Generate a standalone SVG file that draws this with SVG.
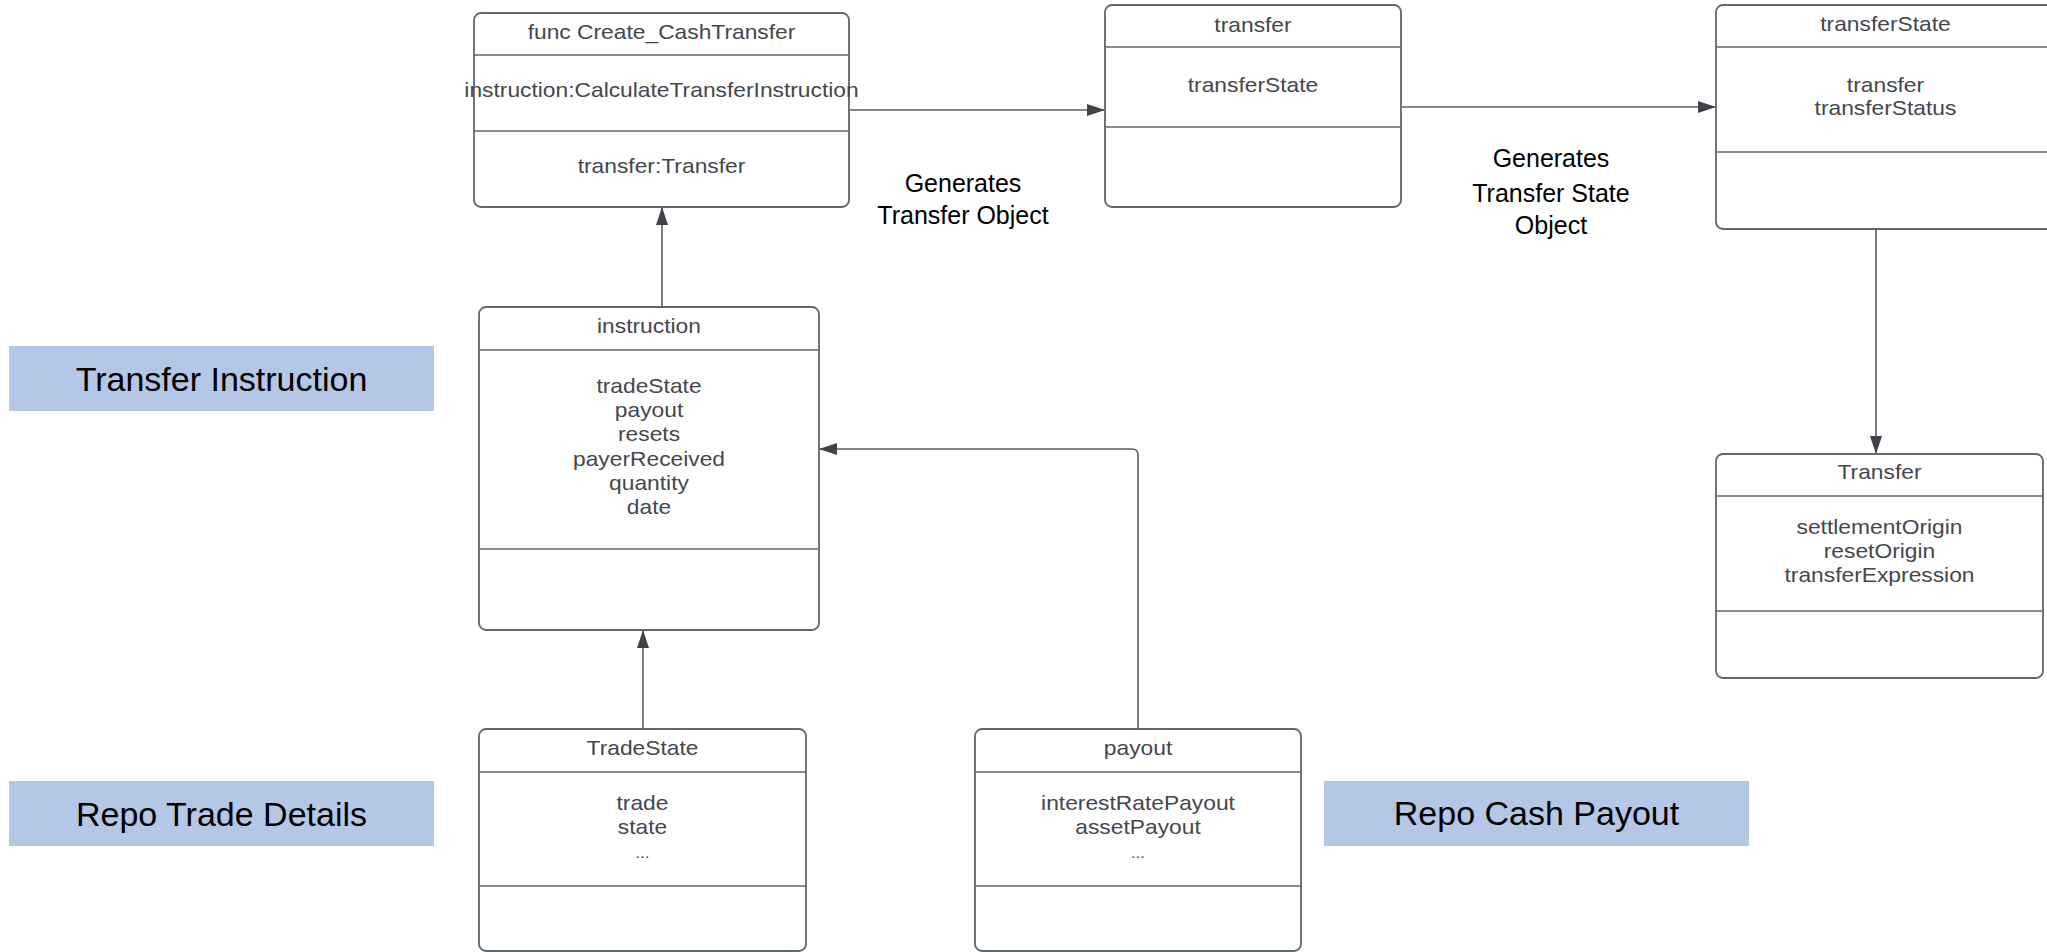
<svg xmlns="http://www.w3.org/2000/svg" width="2047" height="952" viewBox="0 0 2047 952">
<style>
  .box { fill: #ffffff; stroke: #62666d; stroke-width: 1.8; }
  .div { stroke: #62666d; stroke-width: 1.6; }
  .nt { font-family: "Liberation Sans", Arial, sans-serif; font-size: 20px; fill: #44474d; text-anchor: middle; }
  .conn { fill: none; stroke: #5a5e65; stroke-width: 1.6; }
  .lbl { font-family: "Liberation Sans", Arial, sans-serif; font-size: 25px; fill: #000000; text-anchor: middle; }
  .band { fill: #b4c7e7; }
  .bt { font-family: "Liberation Sans", Arial, sans-serif; font-size: 34px; fill: #000000; text-anchor: middle; }
</style>
<defs>
  <marker id="arr" viewBox="0 0 18 12" refX="18" refY="6" markerWidth="18" markerHeight="12" orient="auto" markerUnits="userSpaceOnUse">
    <path d="M0,0 L18,6 L0,12 z" fill="#3e4148"/>
  </marker>
</defs>
<rect x="0" y="0" width="2047" height="952" fill="#ffffff"/>

<g id="connectors">
  <line class="conn" x1="849" y1="110" x2="1105" y2="110" marker-end="url(#arr)"/>
  <line class="conn" x1="1401" y1="107" x2="1716" y2="107" marker-end="url(#arr)"/>
  <line class="conn" x1="1876" y1="229" x2="1876" y2="454" marker-end="url(#arr)"/>
  <line class="conn" x1="662" y1="307" x2="662" y2="207" marker-end="url(#arr)"/>
  <line class="conn" x1="643" y1="729" x2="643" y2="630" marker-end="url(#arr)"/>
  <path class="conn" d="M1138,729 V455 Q1138,449 1132,449 H819" marker-end="url(#arr)"/>
</g>

<g id="node-func">
  <rect class="box" x="474" y="13" width="375" height="194" rx="7"/>
  <line class="div" x1="474" y1="55" x2="849" y2="55"/>
  <line class="div" x1="474" y1="131" x2="849" y2="131"/>
  <g transform="translate(661.5 0) scale(1.14 1)">
    <text class="nt" x="0" y="39">func Create_CashTransfer</text>
    <text class="nt" x="0" y="97">instruction:CalculateTransferInstruction</text>
    <text class="nt" x="0" y="173">transfer:Transfer</text>
  </g>
</g>

<g id="node-transfer">
  <rect class="box" x="1105" y="5" width="296" height="202" rx="7"/>
  <line class="div" x1="1105" y1="47" x2="1401" y2="47"/>
  <line class="div" x1="1105" y1="127" x2="1401" y2="127"/>
  <g transform="translate(1253 0) scale(1.14 1)">
    <text class="nt" x="0" y="32">transfer</text>
    <text class="nt" x="0" y="92">transferState</text>
  </g>
</g>

<g id="node-transferState">
  <rect class="box" x="1716" y="5" width="360" height="224" rx="7"/>
  <line class="div" x1="1716" y1="47" x2="2076" y2="47"/>
  <line class="div" x1="1716" y1="152" x2="2076" y2="152"/>
  <g transform="translate(1885.5 0) scale(1.14 1)">
    <text class="nt" x="0" y="31">transferState</text>
    <text class="nt" x="0" y="92">transfer</text>
    <text class="nt" x="0" y="115">transferStatus</text>
  </g>
</g>

<g id="node-Transfer">
  <rect class="box" x="1716" y="454" width="327" height="224" rx="7"/>
  <line class="div" x1="1716" y1="496" x2="2043" y2="496"/>
  <line class="div" x1="1716" y1="611" x2="2043" y2="611"/>
  <g transform="translate(1879.5 0) scale(1.14 1)">
    <text class="nt" x="0" y="479">Transfer</text>
    <text class="nt" x="0" y="534">settlementOrigin</text>
    <text class="nt" x="0" y="558">resetOrigin</text>
    <text class="nt" x="0" y="582">transferExpression</text>
  </g>
</g>

<g id="node-instruction">
  <rect class="box" x="479" y="307" width="340" height="323" rx="7"/>
  <line class="div" x1="479" y1="350" x2="819" y2="350"/>
  <line class="div" x1="479" y1="549" x2="819" y2="549"/>
  <g transform="translate(649 0) scale(1.14 1)">
    <text class="nt" x="0" y="333">instruction</text>
    <text class="nt" x="0" y="393">tradeState</text>
    <text class="nt" x="0" y="417">payout</text>
    <text class="nt" x="0" y="441">resets</text>
    <text class="nt" x="0" y="466">payerReceived</text>
    <text class="nt" x="0" y="490">quantity</text>
    <text class="nt" x="0" y="514">date</text>
  </g>
</g>

<g id="node-TradeState">
  <rect class="box" x="479" y="729" width="327" height="222" rx="7"/>
  <line class="div" x1="479" y1="772" x2="806" y2="772"/>
  <line class="div" x1="479" y1="886" x2="806" y2="886"/>
  <g transform="translate(642.5 0) scale(1.14 1)">
    <text class="nt" x="0" y="755">TradeState</text>
    <text class="nt" x="0" y="810">trade</text>
    <text class="nt" x="0" y="834">state</text>
    <text class="nt" x="0" y="858" style="font-size:15px">...</text>
  </g>
</g>

<g id="node-payout">
  <rect class="box" x="975" y="729" width="326" height="222" rx="7"/>
  <line class="div" x1="975" y1="772" x2="1301" y2="772"/>
  <line class="div" x1="975" y1="886" x2="1301" y2="886"/>
  <g transform="translate(1138 0) scale(1.14 1)">
    <text class="nt" x="0" y="755">payout</text>
    <text class="nt" x="0" y="810">interestRatePayout</text>
    <text class="nt" x="0" y="834">assetPayout</text>
    <text class="nt" x="0" y="858" style="font-size:15px">...</text>
  </g>
</g>

<g id="label-generates-transfer">
  <text class="lbl" x="963" y="192">Generates</text>
  <text class="lbl" x="963" y="224">Transfer Object</text>
</g>

<g id="label-generates-state">
  <text class="lbl" x="1551" y="167">Generates</text>
  <text class="lbl" x="1551" y="202">Transfer State</text>
  <text class="lbl" x="1551" y="234">Object</text>
</g>

<g id="band-transfer-instruction">
  <rect class="band" x="9" y="346" width="425" height="65"/>
  <text class="bt" x="221.5" y="391">Transfer Instruction</text>
</g>

<g id="band-repo-trade">
  <rect class="band" x="9" y="781" width="425" height="65"/>
  <text class="bt" x="221.5" y="826">Repo Trade Details</text>
</g>

<g id="band-repo-cash">
  <rect class="band" x="1324" y="781" width="425" height="65"/>
  <text class="bt" x="1536.5" y="825">Repo Cash Payout</text>
</g>
</svg>
